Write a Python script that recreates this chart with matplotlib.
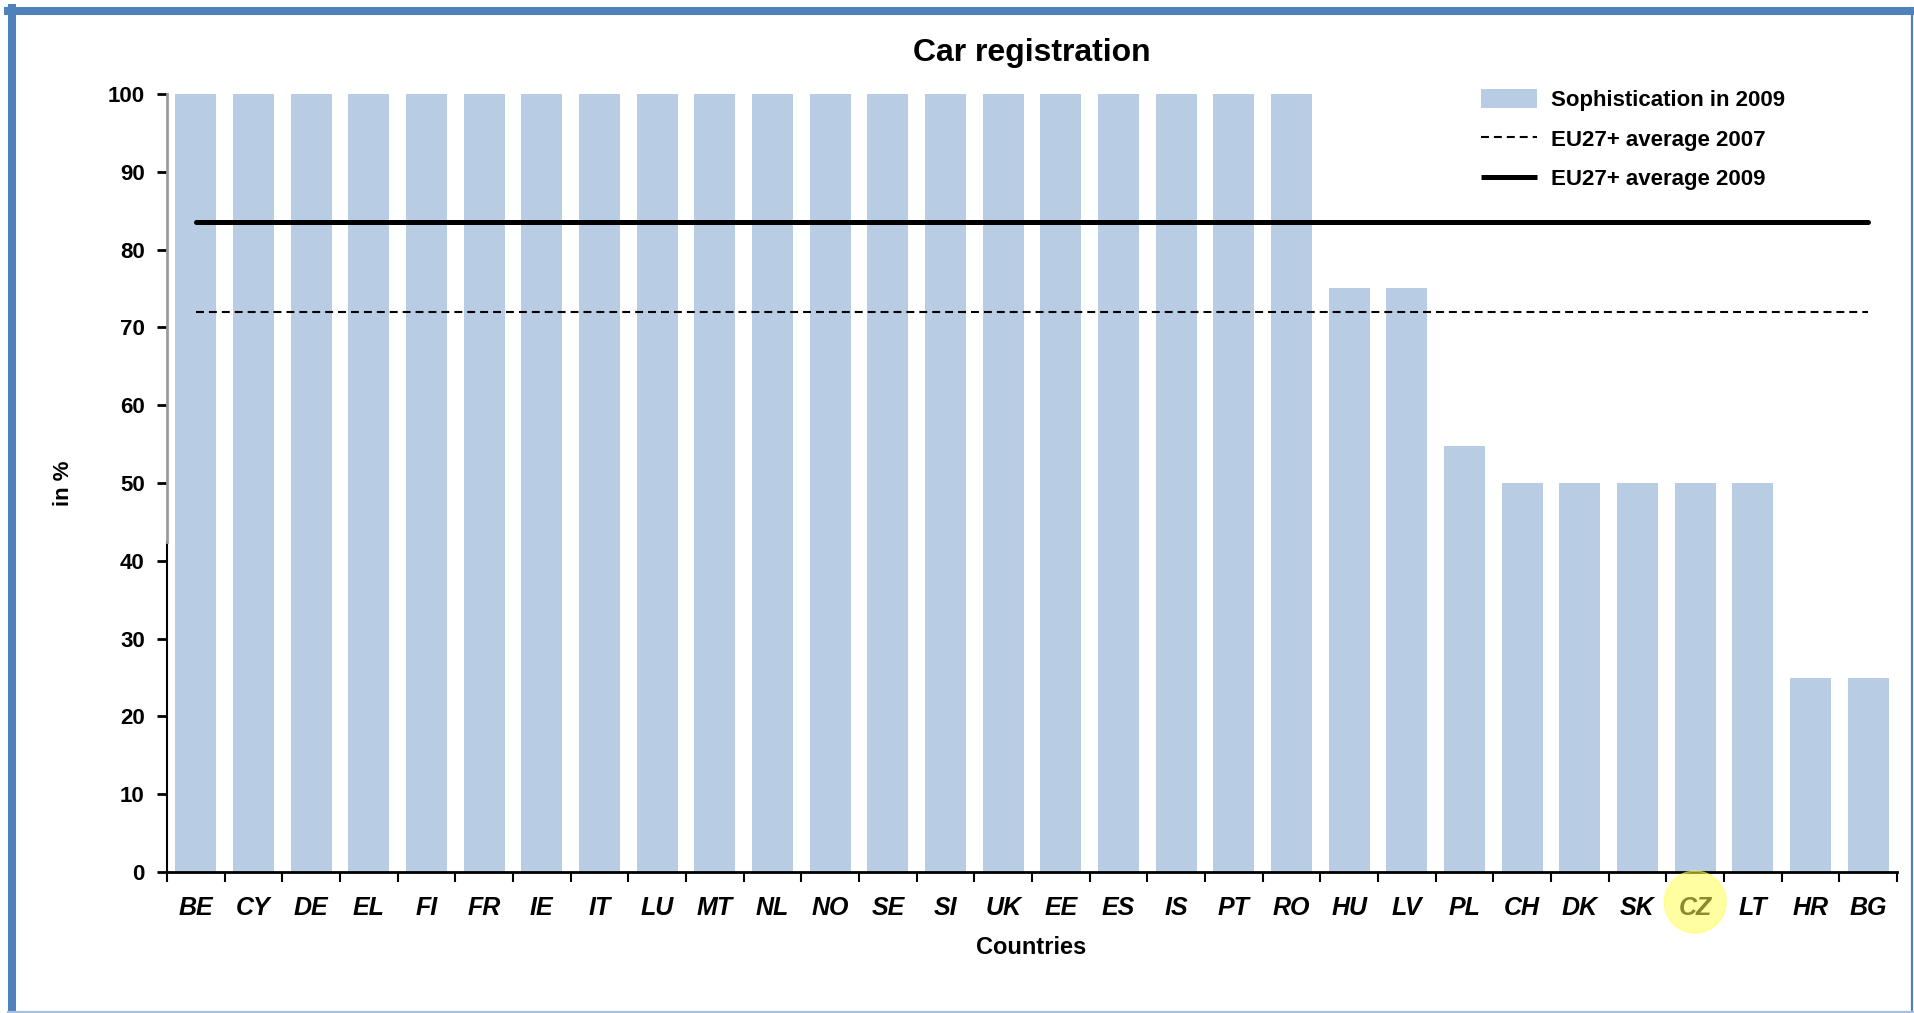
import matplotlib
matplotlib.use("Agg")
import matplotlib.pyplot as plt
from matplotlib.lines import Line2D
from matplotlib.patches import Ellipse

plt.rcParams['font.family'] = ['Liberation Sans', 'DejaVu Sans']

# --- data ---
countries = ['BE', 'CY', 'DE', 'EL', 'FI', 'FR', 'IE', 'IT', 'LU', 'MT',
             'NL', 'NO', 'SE', 'SI', 'UK', 'EE', 'ES', 'IS', 'PT', 'RO',
             'HU', 'LV', 'PL', 'CH', 'DK', 'SK', 'CZ', 'LT', 'HR', 'BG']
soph_2009 = [100, 100, 100, 100, 100, 100, 100, 100, 100, 100,
             100, 100, 100, 100, 100, 100, 100, 100, 100, 100,
             75, 75, 54.7, 50, 50, 50, 50, 50, 25, 25]
eu_avg_2007 = 72.0
eu_avg_2009 = 83.5
y_ticks = [0, 10, 20, 30, 40, 50, 60, 70, 80, 90, 100]
highlight = 'CZ'

W, H = 1914, 1013
fig = plt.figure(figsize=(W / 100, H / 100), dpi=100)
ax = fig.add_axes([167 / W, 1 - 872 / H, 1730 / W, 778 / H])

x = list(range(len(countries)))
bars = ax.bar(x, soph_2009, width=0.71, color='#B8CCE4', zorder=2,
              label='Sophistication in 2009')
l07 = ax.hlines(eu_avg_2007, x[0], x[-1], colors='black', lw=1.5,
                linestyles=(0, (3.8, 2.4)), zorder=3, label='EU27+ average 2007')
l09 = ax.hlines(eu_avg_2009, x[0], x[-1], colors='black', lw=3.6,
                capstyle='round', zorder=3, label='EU27+ average 2009')

ax.set_xlim(-0.5, len(countries) - 0.5)
ax.set_ylim(0, 100)
ax.set_yticks(y_ticks)
ax.set_yticklabels([str(v) for v in y_ticks], fontsize=16, fontweight='bold')
ax.tick_params(axis='y', length=7, width=2, pad=9)

# category ticks between bars, labels centred under bars
ax.set_xticks([i - 0.5 for i in range(len(countries) + 1)])
ax.set_xticklabels([])
ax.tick_params(axis='x', length=7, width=1.5)
for i, c in enumerate(countries):
    ax.text(i, -4.6, c, ha='center', va='center', fontsize=18,
            fontweight='bold', style='italic')

for s in ['top', 'right', 'left']:
    ax.spines[s].set_visible(False)
ax.spines['bottom'].set_linewidth(2)
# left axis line: grey upper part, black lower part
ax.plot([-0.5, -0.5], [0, 42.4], color='black', lw=1.5, clip_on=False, zorder=4)
ax.plot([-0.5, -0.5], [42.4, 100], color='#9a9a9a', lw=2, clip_on=False, zorder=4)

ax.set_title('Car registration', fontsize=23, fontweight='bold', pad=24)
ax.set_ylabel('in %', fontsize=16, fontweight='bold')
ax.yaxis.set_label_coords(-0.054, 0.5)
fig.text(1031 / W, 1 - 947 / H, 'Countries', ha='center', va='center',
         fontsize=17, fontweight='bold')

leg = ax.legend(handles=[bars, l07, l09],
                loc='upper left', bbox_to_anchor=(1470 / W, 1 - 78 / H),
                bbox_transform=fig.transFigure, frameon=False, fontsize=16,
                handlelength=2.5, handleheight=0.9, labelspacing=0.8,
                handletextpad=0.65, borderpad=0)
for t in leg.get_texts():
    t.set_fontweight('bold')

# highlight marker on one country label
hi = countries.index(highlight)
cx, cy = ax.transData.transform((hi, 0))
fig.patches.append(Ellipse((cx / W, 1 - 902 / H), 62 / W, 62 / H,
                           transform=fig.transFigure, color='#FFFF55',
                           alpha=0.55, zorder=10))

# outer frame
frame = '#4F81BD'
fig.lines.append(Line2D([12 / W, 12 / W], [0, 1 - 8 / H], transform=fig.transFigure,
                        color=frame, lw=5.8))
fig.lines.append(Line2D([8 / W, 1913 / W], [1 - 11 / H, 1 - 11 / H],
                        transform=fig.transFigure, color=frame, lw=5.8))
fig.lines.append(Line2D([1912 / W, 1912 / W], [0, 1 - 8 / H], transform=fig.transFigure,
                        color=frame, lw=1.6))
fig.lines.append(Line2D([8 / W, 1913 / W], [1.5 / H, 1.5 / H], transform=fig.transFigure,
                        color='#A8C0E0', lw=1.6))

fig.savefig('out.png', dpi=100)
